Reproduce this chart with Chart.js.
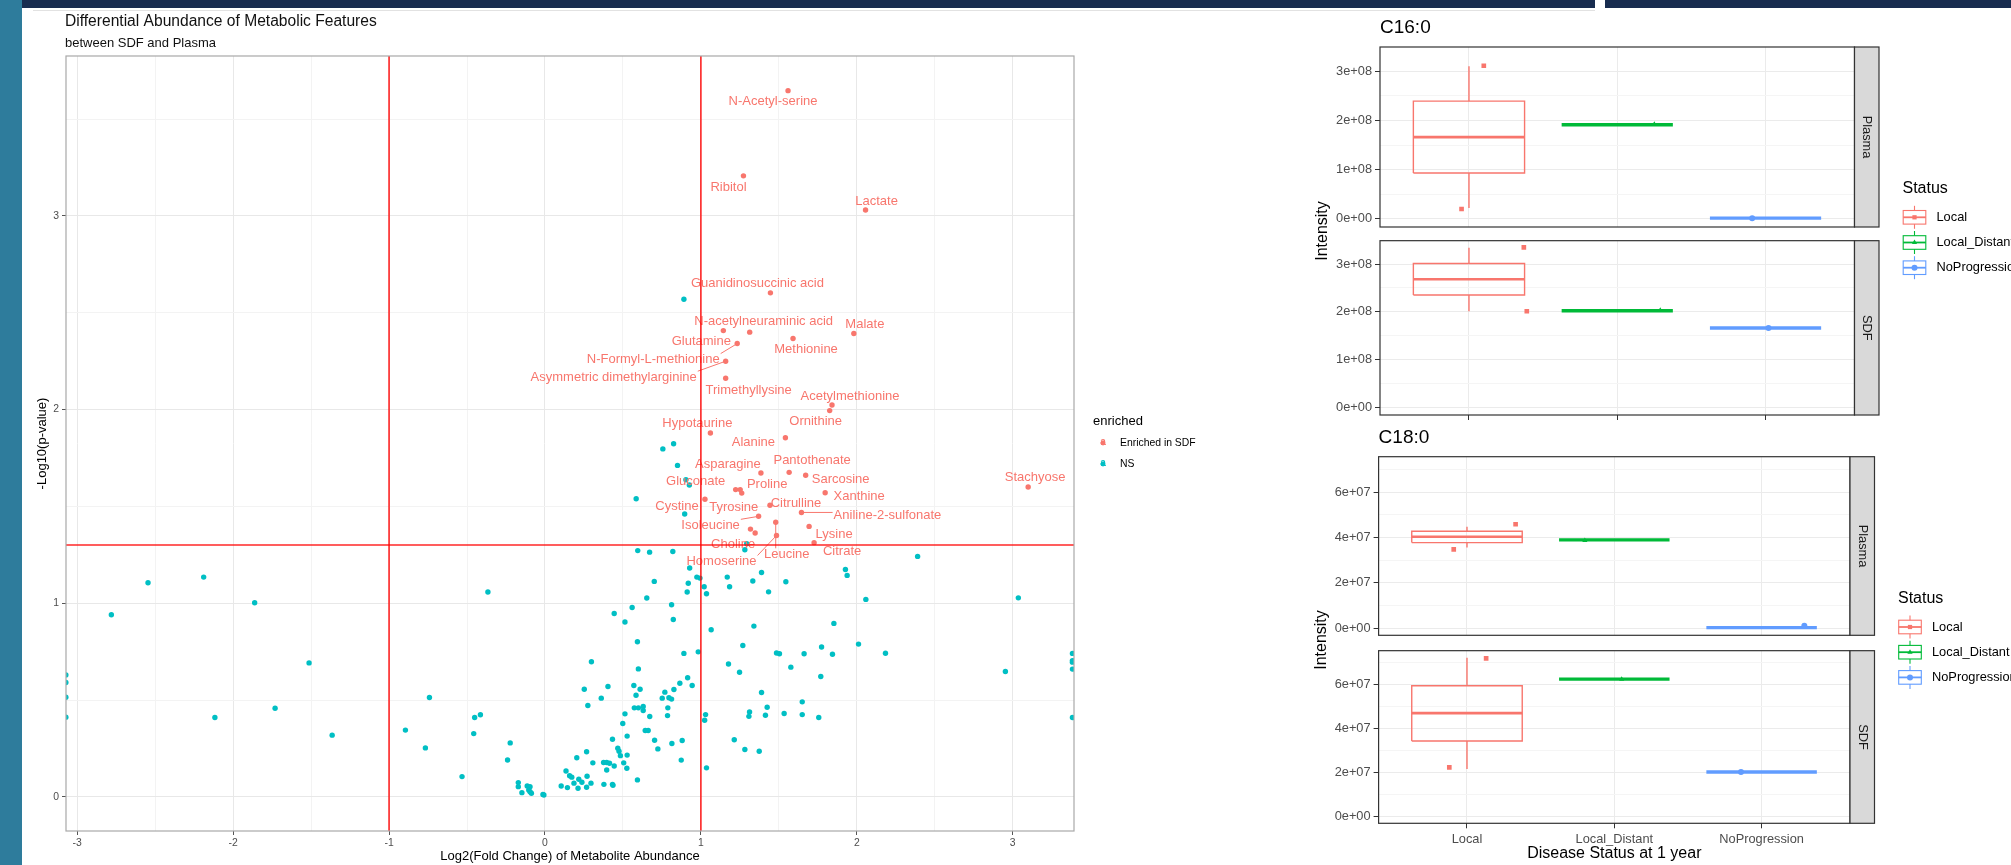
<!DOCTYPE html>
<html>
<head>
<meta charset="utf-8">
<script src="https://cdn.jsdelivr.net/npm/chart.js@4.4.1/dist/chart.umd.min.js"></script>
<style>
  html, body { margin: 0; padding: 0; background: #fff; }
  body { width: 2011px; height: 865px; position: relative; overflow: hidden; }
  .deco, canvas { position: absolute; }
</style>
</head>
<body>
<div class="deco" style="left:0;top:0;width:22px;height:865px;background:#2e7c9c"></div>
<div class="deco" style="left:22px;top:0;width:1573px;height:8px;background:#182c4f"></div>
<div class="deco" style="left:1605px;top:0;width:406px;height:8px;background:#182c4f"></div>
<div class="deco" style="left:33px;top:10px;width:1562px;height:1px;background:#e2e2e2"></div>

<canvas id="volcano" width="1250" height="865" style="left:0;top:0"></canvas>
<canvas id="c16p" width="721" height="430" style="left:1290px;top:0"></canvas>
<canvas id="c16s" width="721" height="200" style="left:1290px;top:230px"></canvas>
<canvas id="c18p" width="721" height="445" style="left:1290px;top:420px"></canvas>
<canvas id="c18s" width="721" height="225" style="left:1290px;top:640px"></canvas>

<script>
const SANS = '"Liberation Sans", Arial, Helvetica, sans-serif';
Chart.defaults.font.family = SANS;
Chart.defaults.animation = false;

// ---------- volcano data ----------
// metabolites enriched in SDF (log2 FC, -log10 p)
const sigNames = ['N-Acetyl-serine', 'Ribitol', 'Lactate', 'Guanidinosuccinic acid', 'Glutamine',
  'N-acetylneuraminic acid', 'Malate', 'Methionine', 'N-Formyl-L-methionine', 'Asymmetric dimethylarginine',
  'Trimethyllysine', 'Acetylmethionine', 'Ornithine', 'Hypotaurine', 'Alanine', 'Asparagine', 'Pantothenate',
  'Sarcosine', 'Gluconate', 'Proline', 'Tyrosine', 'Stachyose', 'Xanthine', 'Cystine', 'Citrulline',
  'Aniline-2-sulfonate', 'Isoleucine', 'Leucine', 'Lysine', '', 'Choline', 'Homoserine', 'Citrate'];
const sigFC = [1.559, 1.273, 2.056, 1.446, 1.144, 1.313, 1.981, 1.591, 1.233, 1.159,
  1.159, 1.841, 1.826, 1.061, 1.542, 1.385, 1.566, 1.672, 1.223, 1.252, 1.262, 3.099, 1.797, 1.026, 1.443,
  1.645, 1.370, 1.480, 1.694, 1.318, 1.348, 1.485, 1.726];
const sigP = [3.647, 3.207, 3.031, 2.603, 2.408, 2.400, 2.393, 2.367, 2.341, 2.250,
  2.162, 2.024, 1.995, 1.879, 1.855, 1.673, 1.676, 1.661, 1.587, 1.587, 1.569, 1.600, 1.571, 1.537, 1.506,
  1.469, 1.449, 1.418, 1.397, 1.383, 1.363, 1.350, 1.313];

// not significant metabolites
const nsFC = [0.891, 0.825, 0.756, 0.850, 0.904, 0.926, 0.585, 0.896, 1.294, 1.282, 0.595, 0.671, 0.820, 2.390,
  0.928, 1.927,
  -3.073, -3.073, -3.073, -3.073, -2.781, -2.546, -2.189, -2.117, -1.862, -1.731, -1.513, -1.365, -0.895,
  -0.767, -0.741, -0.532, -0.457, -0.451, -0.414, -0.366, -0.240, -0.223, -0.171, -0.171, -0.148, -0.114,
  -0.096, -0.104, -0.087, -0.096, -0.013, -0.007, 0.104, 0.144, 0.135, 0.158, 0.172, 0.186, 0.212, 0.217,
  0.237, 0.270, 0.267, 0.295, 0.204, 0.267, 0.307, 0.252, 0.275, 0.298, 0.361, 0.404, 0.433, 0.444, 0.376,
  0.396, 0.414, 0.444, 0.396, 0.378, 0.433, 0.436, 0.467, 0.475, 0.484, 0.499, 0.513, 0.513, 0.505, 0.525,
  0.527, 0.527, 0.559, 0.570, 0.584, 0.573, 0.599, 0.630, 0.630, 0.593, 0.599, 0.610, 0.593, 0.653, 0.643,
  0.662, 0.672,
  0.701, 0.974, 0.994, 0.919, 0.912, 1.021, 1.036, 1.169, 1.184, 1.389, 1.333, 1.434, 1.545, 1.938, 2.058,
  3.036, 0.812, 0.823, 1.066, 1.340, 1.853, 1.269, 2.011, 1.774, 0.891, 0.983, 1.485, 1.504, 1.662, 1.844,
  2.184, 3.383, 3.383, 3.383, 3.383, 2.953, 1.177, 1.248, 1.577, 1.769, 0.915, 0.865, 0.944, 0.827, 0.769,
  0.752, 0.795, 0.812, 1.389, 1.650, 0.788, 0.786, 1.030, 1.024, 1.312, 1.308, 1.425, 1.414, 1.534, 1.650,
  1.756, 3.383, 0.703, 0.724, 0.814, 0.880, 0.874, 1.036, 1.214, 1.282, 1.374];
const nsP = [2.570, 1.824, 1.797, 1.712, 1.638, 1.611, 1.540, 1.461, 1.307, 1.276, 1.272, 1.264, 1.267, 1.242,
  1.182, 1.174,
  0.630, 0.591, 0.515, 0.412, 0.941, 1.106, 1.135, 0.410, 1.003, 0.458, 0.692, 0.319, 0.345,
  0.253, 0.513, 0.105, 0.327, 0.410, 0.424, 1.058, 0.191, 0.279, 0.074, 0.053, 0.022, 0.056,
  0.053, 0.036, 0.019, 0.027, 0.013, 0.010, 0.056, 0.048, 0.134, 0.109, 0.102, 0.071, 0.045, 0.091,
  0.076, 0.107, 0.050, 0.071, 0.202, 0.233, 0.176, 0.556, 0.472, 0.698, 0.510, 0.570, 0.298, 0.947, 0.178,
  0.178, 0.174, 0.160, 0.139, 0.065, 0.065, 0.060, 0.251, 0.236, 0.213, 0.379, 0.429, 0.903, 0.176, 0.148,
  0.216, 0.314, 0.978, 0.575, 0.525, 0.460, 0.460, 0.467, 0.446, 0.801, 0.661, 0.556, 0.088, 1.027, 0.343,
  0.343, 0.415,
  1.113, 1.135, 1.130, 1.103, 1.058, 1.085, 1.049, 1.135, 1.085, 1.159, 1.115, 1.059, 1.111, 1.144, 1.020,
  1.028, 0.992, 0.916, 0.863, 0.882, 0.896, 0.782, 0.789, 0.774, 0.741, 0.749, 0.743, 0.739, 0.739, 0.737,
  0.742, 0.741, 0.704, 0.696, 0.660, 0.648, 0.686, 0.644, 0.670, 0.622, 0.615, 0.587, 0.575, 0.555, 0.541,
  0.510, 0.512, 0.505, 0.539, 0.491, 0.460, 0.420, 0.425, 0.396, 0.439, 0.416, 0.463, 0.422, 0.431, 0.425,
  0.410, 0.410, 0.293, 0.248, 0.276, 0.291, 0.190, 0.150, 0.295, 0.245, 0.236];

const fcCutoffs = [-1, 1];
const pCutoff = 1.301;
const xGrid = [-3, -2.5, -2, -1.5, -1, -0.5, 0, 0.5, 1, 1.5, 2, 2.5, 3];
const yGrid = [0, 0.5, 1, 1.5, 2, 2.5, 3, 3.5];
const xMin = -3.072, xMax = 3.393, yMin = -0.176, yMax = 3.826;

// label placement (pixel offset from point, draw segment)
const labelNudge = [[-15, 11], [-15, 12], [11, -9], [-13, -9], [-22, 11],
  [14, -11], [11, -9], [13, 11], [-84, 16, 1], [-112, 16, 1],
  [23, 12], [18, -9], [-14, 11], [-13, -10], [-32, 5], [-33, -9], [23, -12],
  [35, 4], [-40, -8], [27, -5], [-8, 14], [7, -10], [34, 4], [-28, 7], [26, -2],
  [86, 3, 1], [-48, 9, 1], [11, 32, 1], [25, 8], [0, 0], [-22, 11], [-55, 26, 1], [28, 9]];

const RED = '#F8766D', TEAL = '#00BFC4';
const isMajor = c => c.tick && Number.isInteger(c.tick.value);

const repelLabels = {
  id: 'repelLabels',
  afterDatasetDraw(chart, args) {
    if (args.index !== 0) return;
    const { ctx, scales: { x, y } } = chart;
    ctx.save();
    ctx.font = `13px ${SANS}`;
    ctx.fillStyle = RED; ctx.strokeStyle = RED; ctx.lineWidth = 1;
    ctx.textAlign = 'center'; ctx.textBaseline = 'middle';
    sigNames.forEach((name, i) => {
      if (!name) return;
      const px = x.getPixelForValue(sigFC[i]), py = y.getPixelForValue(sigP[i]);
      const [dx, dy, seg] = labelNudge[i];
      const lx = px + dx, ly = py + dy;
      if (seg) {
        const hw = ctx.measureText(name).width / 2 + 1, hh = 6;
        const ex = Math.min(Math.max(px, lx - hw), lx + hw);
        const ey = Math.min(Math.max(py, ly - hh), ly + hh);
        ctx.beginPath(); ctx.moveTo(px, py); ctx.lineTo(ex, ey); ctx.stroke();
      }
      ctx.fillText(name, lx, ly);
    });
    ctx.restore();
  }
};

const volcanoDecor = {
  id: 'volcanoDecor',
  afterDraw(chart) {
    const { ctx, chartArea: a } = chart;
    ctx.save();
    ctx.strokeStyle = '#a8a8a8'; ctx.lineWidth = 1.2;
    ctx.strokeRect(a.left, a.top, a.width, a.height);
    ctx.fillStyle = '#111'; ctx.textAlign = 'left'; ctx.textBaseline = 'middle';
    ctx.font = `15.6px ${SANS}`;
    ctx.fillText('Differential Abundance of Metabolic Features', 65, 22);
    ctx.font = `13px ${SANS}`;
    ctx.fillText('between SDF and Plasma', 65, 43);
    // legend
    ctx.fillStyle = '#000';
    ctx.fillText('enriched', 1093, 421);
    [['Enriched in SDF', RED], ['NS', TEAL]].forEach(([txt, col], i) => {
      const cy = 443 + i * 21;
      ctx.fillStyle = col;
      ctx.beginPath(); ctx.arc(1103, cy, 2.4, 0, Math.PI * 2); ctx.fill();
      ctx.font = `bold 10px ${SANS}`; ctx.textAlign = 'center';
      ctx.fillText('a', 1103, cy - 1);
      ctx.fillStyle = '#000'; ctx.textAlign = 'left'; ctx.font = `10.4px ${SANS}`;
      ctx.fillText(txt, 1120, cy);
    });
    ctx.restore();
  }
};

const cutLine = data => ({
  data, showLine: true, borderColor: 'rgba(255,0,0,0.85)', borderWidth: 1.6,
  pointRadius: 0, order: 0
});

new Chart(document.getElementById('volcano'), {
  type: 'scatter',
  data: {
    datasets: [
      { label: 'Enriched in SDF', data: sigFC.map((v, i) => ({ x: v, y: sigP[i] })),
        backgroundColor: RED, pointRadius: 2.7, pointBorderWidth: 0, order: 1 },
      { label: 'NS', data: nsFC.map((v, i) => ({ x: v, y: nsP[i] })),
        backgroundColor: TEAL, pointRadius: 2.7, pointBorderWidth: 0, order: 2 },
      ...fcCutoffs.map(c => cutLine([{ x: c, y: yMin }, { x: c, y: yMax }])),
      cutLine([{ x: xMin, y: pCutoff }, { x: xMax, y: pCutoff }])
    ]
  },
  options: {
    responsive: false,
    layout: { padding: { left: 22, top: 56, right: 176, bottom: 0 } },
    plugins: { legend: { display: false }, tooltip: { enabled: false } },
    scales: {
      x: {
        type: 'linear', min: xMin, max: xMax,
        afterBuildTicks: s => { s.ticks = xGrid.map(v => ({ value: v })); },
        afterFit: s => { s.height = 34; },
        ticks: { autoSkip: false, maxRotation: 0, padding: 2, color: '#4d4d4d', font: { size: 10.4 },
          callback: v => Number.isInteger(v) ? String(v) : '' },
        grid: { color: c => isMajor(c) ? '#e8e8e8' : '#f3f3f3', lineWidth: 1, tickLength: 4,
          tickColor: c => isMajor(c) ? '#555' : 'rgba(0,0,0,0)' },
        border: { display: false },
        title: { display: true, text: 'Log2(Fold Change) of Metabolite Abundance', color: '#000',
          font: { size: 13 }, padding: { top: 0, bottom: 1 } }
      },
      y: {
        type: 'linear', min: yMin, max: yMax,
        afterBuildTicks: s => { s.ticks = yGrid.map(v => ({ value: v })); },
        afterFit: s => { s.width = 44; },
        ticks: { autoSkip: false, padding: 3, color: '#4d4d4d', font: { size: 10.4 },
          callback: v => Number.isInteger(v) ? String(v) : '' },
        grid: { color: c => isMajor(c) ? '#e8e8e8' : '#f3f3f3', lineWidth: 1, tickLength: 4,
          tickColor: c => isMajor(c) ? '#555' : 'rgba(0,0,0,0)' },
        border: { display: false },
        title: { display: true, text: '-Log10(p-value)', color: '#000',
          font: { size: 13 }, padding: { top: 13, bottom: 0 } }
      }
    }
  },
  plugins: [repelLabels, volcanoDecor]
});

// ---------- box plot data ----------
const statusCats = ['Local', 'Local_Distant', 'NoProgression'];
const statusColors = ['#F8766D', '#00BA38', '#619CFF'];
const statusShapes = ['rect', 'triangle', 'circle'];

// [min, q1, median, q3, max] per status
const c16PlasmaBox = [[0.22e8, 0.93e8, 1.66e8, 2.39e8, 3.10e8], [1.91e8, 1.91e8, 1.91e8, 1.91e8, 1.91e8],
  [0.015e8, 0.015e8, 0.015e8, 0.015e8, 0.015e8]];
const c16SdfBox = [[2.01e8, 2.35e8, 2.68e8, 3.01e8, 3.34e8], [2.02e8, 2.02e8, 2.02e8, 2.02e8, 2.02e8],
  [1.66e8, 1.66e8, 1.66e8, 1.66e8, 1.66e8]];
const c18PlasmaBox = [[3.55e7, 3.77e7, 4.03e7, 4.27e7, 4.47e7], [3.89e7, 3.89e7, 3.89e7, 3.89e7, 3.89e7],
  [0.02e7, 0.02e7, 0.02e7, 0.02e7, 0.02e7]];
const c18SdfBox = [[2.16e7, 3.44e7, 4.71e7, 5.96e7, 7.24e7], [6.26e7, 6.26e7, 6.26e7, 6.26e7, 6.26e7],
  [2.02e7, 2.02e7, 2.02e7, 2.02e7, 2.02e7]];

// jittered observations: status index, position on status axis, intensity
const obsStatus = [0, 0, 1, 2];
const c16PlasmaObsX = [0.10, -0.05, 1.25, 1.91];
const c16PlasmaObsY = [3.11e8, 0.20e8, 1.92e8, 0.015e8];
const c16SdfObsX = [0.37, 0.39, 1.29, 2.02];
const c16SdfObsY = [3.35e8, 2.01e8, 2.03e8, 1.66e8];
const c18PlasmaObsX = [0.33, -0.09, 0.80, 2.29];
const c18PlasmaObsY = [4.58e7, 3.47e7, 3.86e7, 0.10e7];
const c18SdfObsX = [0.13, -0.12, 1.05, 1.86];
const c18SdfObsY = [7.21e7, 2.23e7, 6.26e7, 2.02e7];

const c16Ticks = [0, 1e8, 2e8, 3e8];
const c16TickLabels = ['0e+00', '1e+08', '2e+08', '3e+08'];
const c16Minor = [0.5e8, 1.5e8, 2.5e8];
const c16Range = [-0.165e8, 3.49e8];
const c18Ticks = [0, 2e7, 4e7, 6e7];
const c18TickLabels = ['0e+00', '2e+07', '4e+07', '6e+07'];
const c18Minor = [1e7, 3e7, 5e7, 7e7];
const c18Range = [-0.32e7, 7.56e7];

const BOX_HALF = 0.375;

function boxDatasets(stats) {
  const out = [];
  stats.forEach(([lo, q1, med, q3, hi], i) => {
    const base = { showLine: true, pointRadius: 0, borderColor: statusColors[i], order: 1 };
    const l = i - BOX_HALF, r = i + BOX_HALF;
    if (hi === lo) {
      out.push({ ...base, borderWidth: 3.4, data: [{ x: l, y: med }, { x: r, y: med }] });
      return;
    }
    out.push({ ...base, borderWidth: 1.4,
      data: [{ x: l, y: q1 }, { x: r, y: q1 }, { x: r, y: q3 }, { x: l, y: q3 }, { x: l, y: q1 }] });
    out.push({ ...base, borderWidth: 2.6, data: [{ x: l, y: med }, { x: r, y: med }] });
    out.push({ ...base, borderWidth: 1.4, data: [{ x: i, y: q3 }, { x: i, y: hi }] });
    out.push({ ...base, borderWidth: 1.4, data: [{ x: i, y: lo }, { x: i, y: q1 }] });
  });
  return out;
}

function obsDatasets(xs, ys) {
  return statusCats.map((s, k) => ({
    label: s,
    data: xs.map((x, i) => ({ x, y: ys[i], s: obsStatus[i] })).filter(p => p.s === k),
    pointStyle: statusShapes[k], pointRadius: k === 0 ? 3.3 : 3, pointBorderWidth: 0,
    backgroundColor: statusColors[k], order: 0
  }));
}

function drawKey(ctx, cx, cy, k) {
  const col = statusColors[k];
  ctx.save();
  ctx.strokeStyle = col; ctx.lineWidth = 1.1;
  ctx.beginPath(); ctx.moveTo(cx, cy - 11.5); ctx.lineTo(cx, cy + 11.5); ctx.stroke();
  ctx.fillStyle = '#fff';
  ctx.fillRect(cx - 11.3, cy - 6.8, 22.6, 13.6);
  ctx.strokeRect(cx - 11.3, cy - 6.8, 22.6, 13.6);
  ctx.lineWidth = 1.8;
  ctx.beginPath(); ctx.moveTo(cx - 11.3, cy); ctx.lineTo(cx + 11.3, cy); ctx.stroke();
  ctx.fillStyle = col;
  Chart.helpers.drawPoint(ctx, { pointStyle: statusShapes[k], radius: 3, borderWidth: 0, rotation: 0 }, cx, cy);
  ctx.restore();
}

const facetPlugin = {
  id: 'facet',
  afterDraw(chart, args, o) {
    const { ctx, chartArea: a } = chart;
    ctx.save();
    ctx.strokeStyle = '#333'; ctx.lineWidth = 1.2;
    ctx.strokeRect(a.left, a.top, a.width, a.height);
    ctx.fillStyle = '#d9d9d9';
    ctx.fillRect(a.right, a.top, o.stripWidth, a.height);
    ctx.strokeRect(a.right, a.top, o.stripWidth, a.height);
    ctx.translate(a.right + o.stripWidth / 2, (a.top + a.bottom) / 2);
    ctx.rotate(Math.PI / 2);
    ctx.fillStyle = '#1a1a1a'; ctx.font = `12.8px ${SANS}`;
    ctx.textAlign = 'center'; ctx.textBaseline = 'middle';
    ctx.fillText(o.label, 0, 0);
    ctx.restore();
  }
};

const decorPlugin = {
  id: 'decor',
  afterDraw(chart, args, o) {
    const { ctx, chartArea: a } = chart;
    ctx.save();
    ctx.fillStyle = '#000'; ctx.textAlign = 'left'; ctx.textBaseline = 'middle';
    ctx.font = `19px ${SANS}`;
    ctx.fillText(o.title, a.left, a.top + o.titleDy);
    ctx.save();
    ctx.translate(a.left - 57.4, a.top + o.span / 2);
    ctx.rotate(-Math.PI / 2);
    ctx.font = `16px ${SANS}`; ctx.textAlign = 'center';
    ctx.fillText('Intensity', 0, 0);
    ctx.restore();
    ctx.font = `16px ${SANS}`;
    ctx.fillText('Status', a.right + 48, a.top + 142);
    statusCats.forEach((s, k) => {
      const cy = a.top + 170.3 + k * 25.2;
      drawKey(ctx, a.right + 60, cy, k);
      ctx.fillStyle = '#000'; ctx.font = `12.8px ${SANS}`;
      ctx.fillText(s, a.right + 82, cy);
    });
    ctx.restore();
  }
};

function facetChart(id, cfg) {
  const yVals = [...cfg.ticks, ...cfg.minor].sort((p, q) => p - q);
  const plugins = [facetPlugin];
  if (cfg.decor) plugins.push(decorPlugin);
  return new Chart(document.getElementById(id), {
    type: 'scatter',
    data: { datasets: [...obsDatasets(cfg.obsX, cfg.obsY), ...boxDatasets(cfg.box)] },
    options: {
      responsive: false,
      layout: { padding: cfg.pad },
      plugins: {
        legend: { display: false }, tooltip: { enabled: false },
        facet: { label: cfg.strip, stripWidth: 24.5 },
        decor: cfg.decor || {}
      },
      scales: {
        x: {
          type: 'linear', min: -0.6, max: 2.6,
          afterBuildTicks: s => { s.ticks = [0, 1, 2].map(v => ({ value: v })); },
          afterFit: s => { s.height = cfg.xHeight; },
          ticks: { display: !!cfg.xTitle, autoSkip: false, maxRotation: 0, padding: 3,
            color: '#4d4d4d', font: { size: 12.8 }, callback: v => statusCats[v] },
          grid: { color: '#ebebeb', drawTicks: cfg.xHeight > 0, tickLength: 5, tickColor: '#333' },
          border: { display: false },
          title: { display: !!cfg.xTitle, text: cfg.xTitle || '', color: '#000',
            font: { size: 16 }, padding: { top: 0, bottom: 2 } }
        },
        y: {
          type: 'linear', min: cfg.range[0], max: cfg.range[1],
          afterBuildTicks: s => { s.ticks = yVals.map(v => ({ value: v })); },
          afterFit: s => { s.width = cfg.yWidth; },
          ticks: { autoSkip: false, padding: 3, color: '#4d4d4d', font: { size: 12.8 },
            callback: v => { const i = cfg.ticks.indexOf(v); return i >= 0 ? cfg.labels[i] : ''; } },
          grid: { color: c => cfg.ticks.includes(c.tick.value) ? '#ebebeb' : '#f5f5f5', tickLength: 5,
            tickColor: c => cfg.ticks.includes(c.tick.value) ? '#333' : 'rgba(0,0,0,0)' },
          border: { display: false }
        }
      }
    },
    plugins
  });
}

const c16Axis = { ticks: c16Ticks, labels: c16TickLabels, minor: c16Minor, range: c16Range, yWidth: 90 };
const c18Axis = { ticks: c18Ticks, labels: c18TickLabels, minor: c18Minor, range: c18Range, yWidth: 88.6 };

facetChart('c16p', { ...c16Axis, box: c16PlasmaBox, obsX: c16PlasmaObsX, obsY: c16PlasmaObsY,
  strip: 'Plasma', xHeight: 0, pad: { left: 0, top: 47, right: 156.5, bottom: 203 },
  decor: { title: 'C16:0', titleDy: -19, span: 368 } });
facetChart('c16s', { ...c16Axis, box: c16SdfBox, obsX: c16SdfObsX, obsY: c16SdfObsY,
  strip: 'SDF', xHeight: 5, pad: { left: 0, top: 5, right: 156.5, bottom: 10 } });
facetChart('c18p', { ...c18Axis, box: c18PlasmaBox, obsX: c18PlasmaObsX, obsY: c18PlasmaObsY,
  strip: 'Plasma', xHeight: 0, pad: { left: 0, top: 36.7, right: 161, bottom: 229.7 },
  decor: { title: 'C18:0', titleDy: -19, span: 366.6 } });
facetChart('c18s', { ...c18Axis, box: c18SdfBox, obsX: c18SdfObsX, obsY: c18SdfObsY,
  strip: 'SDF', xHeight: 41.7, xTitle: 'Disease Status at 1 year',
  pad: { left: 0, top: 4.3, right: 161, bottom: 0 } });
</script>
</body>
</html>
